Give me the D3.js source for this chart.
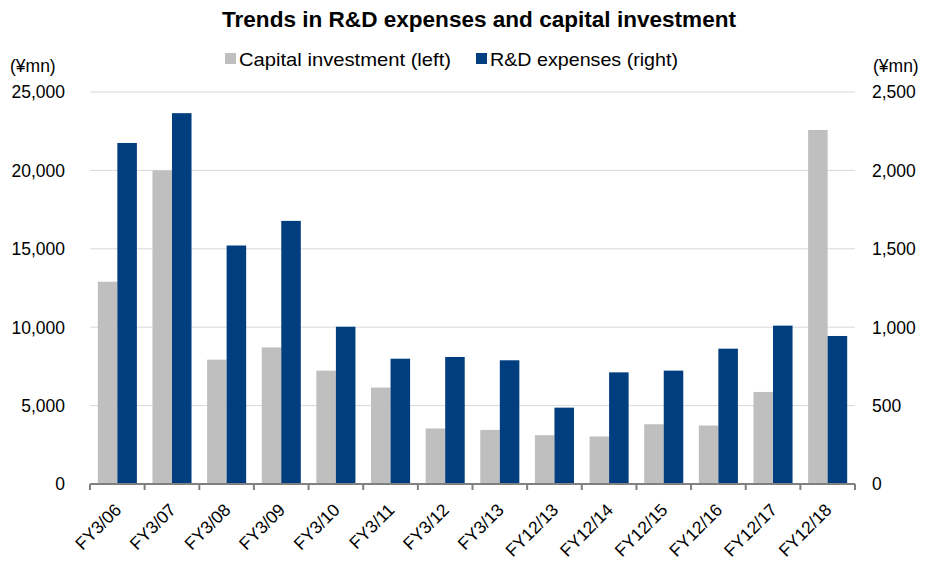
<!DOCTYPE html>
<html>
<head>
<meta charset="utf-8">
<script src="https://cdn.jsdelivr.net/npm/d3@7"></script>
<style>
  body { margin: 0; background: #fff; }
  text { fill: #000; }
</style>
</head>
<body>
<div id="chart"></div>
<script>
// categories and values
var years = ["FY3/06", "FY3/07", "FY3/08", "FY3/09", "FY3/10", "FY3/11", "FY3/12",
             "FY3/13", "FY12/13", "FY12/14", "FY12/15", "FY12/16", "FY12/17", "FY12/18"];
var capex = [12900, 20000, 7930, 8710, 7230, 6150, 3540, 3450, 3110, 3030, 3810, 3730, 5870, 22580];
var rnd = [2175, 2365, 1521, 1678, 1003, 799, 810, 789, 487, 712, 723, 863, 1010, 944];
var leftTicks = [0, 5000, 10000, 15000, 20000, 25000];
var rightTicks = [0, 500, 1000, 1500, 2000, 2500];

var W = 926, H = 565;
var margin = {top: 92, right: 71, bottom: 81, left: 90};
var width = W - margin.left - margin.right;
var height = H - margin.top - margin.bottom;

var font = "'Liberation Sans', Arial, sans-serif";

var svg = d3.select("#chart").append("svg")
    .attr("width", W)
    .attr("height", H)
    .style("font-family", font);

var g = svg.append("g")
    .attr("transform", "translate(" + margin.left + "," + margin.top + ")");

//-----scales-----
var x = d3.scaleBand().domain(years).range([0, width]).paddingInner(0.285).paddingOuter(0.143);
var xCat = d3.scaleBand().domain(years).range([0, width]);
var yL = d3.scaleLinear().domain([0, 25000]).range([height, 0]);
var yR = d3.scaleLinear().domain([0, 2500]).range([height, 0]);

//gridlines
g.selectAll(".grid")
    .data(leftTicks.slice(1))
    .enter().append("line")
    .attr("x1", 0).attr("x2", width)
    .attr("y1", function(d) { return yL(d); })
    .attr("y2", function(d) { return yL(d); })
    .style("stroke", "#d9d9d9")
    .style("stroke-width", 1);

//bars
var bw = x.bandwidth() / 2;
g.selectAll(".capex")
    .data(capex)
    .enter().append("rect")
    .attr("x", function(d, i) { return x(years[i]); })
    .attr("y", function(d) { return yL(d); })
    .attr("width", bw)
    .attr("height", function(d) { return height - yL(d); })
    .style("fill", "#bfbfbf");

g.selectAll(".rnd")
    .data(rnd)
    .enter().append("rect")
    .attr("x", function(d, i) { return x(years[i]) + bw; })
    .attr("y", function(d) { return yR(d); })
    .attr("width", bw)
    .attr("height", function(d) { return height - yR(d); })
    .style("fill", "#003e80");

//x axis: baseline + ticks at category boundaries
g.append("line")
    .attr("x1", 0).attr("x2", width)
    .attr("y1", height).attr("y2", height)
    .style("stroke", "#808080")
    .style("stroke-width", 2);

var bounds = years.map(function(d) { return xCat(d); }).concat([width]);
g.selectAll(".xtick")
    .data(bounds)
    .enter().append("line")
    .attr("x1", function(d) { return d; })
    .attr("x2", function(d) { return d; })
    .attr("y1", height).attr("y2", height + 6)
    .style("stroke", "#808080")
    .style("stroke-width", 2);

g.selectAll(".xlabel")
    .data(years)
    .enter().append("text")
    .attr("transform", function(d) {
        return "translate(" + (xCat(d) + xCat.bandwidth() / 2 + 5) + "," + (height + 27) + ") rotate(-45)";
    })
    .attr("text-anchor", "end")
    .style("font-size", "17.5px")
    .text(function(d) { return d; });

//y axes
var fmt = d3.format(",");
g.selectAll(".ylab")
    .data(leftTicks)
    .enter().append("text")
    .attr("x", -25)
    .attr("y", function(d) { return yL(d); })
    .attr("dy", "0.36em")
    .attr("text-anchor", "end")
    .style("font-size", "17.5px")
    .text(function(d) { return fmt(d); });

g.selectAll(".yrlab")
    .data(rightTicks)
    .enter().append("text")
    .attr("x", width + 17)
    .attr("y", function(d) { return yR(d); })
    .attr("dy", "0.36em")
    .attr("text-anchor", "start")
    .style("font-size", "17.5px")
    .text(function(d) { return fmt(d); });

//units
svg.append("text").attr("x", 10).attr("y", 72)
    .style("font-size", "17.5px").text("(¥mn)");
svg.append("text").attr("x", 873).attr("y", 72)
    .style("font-size", "17.5px").text("(¥mn)");

//title
svg.append("text")
    .attr("x", 222).attr("y", 27)
    .attr("textLength", 514)
    .attr("lengthAdjust", "spacingAndGlyphs")
    .style("font-size", "22px")
    .style("font-weight", "bold")
    .text("Trends in R&D expenses and capital investment");

//legend
var legend = [
    {name: "Capital investment (left)", color: "#bfbfbf", x: 225, len: 212},
    {name: "R&D expenses (right)", color: "#003e80", x: 476, len: 188}
];
var lg = svg.selectAll(".legend")
    .data(legend)
    .enter().append("g")
    .attr("transform", function(d) { return "translate(" + d.x + ",53)"; });
lg.append("rect").attr("width", 11).attr("height", 11)
    .style("fill", function(d) { return d.color; });
lg.append("text").attr("x", 14).attr("y", 13)
    .attr("textLength", function(d) { return d.len; })
    .attr("lengthAdjust", "spacingAndGlyphs")
    .style("font-size", "19px")
    .text(function(d) { return d.name; });
</script>
</body>
</html>
